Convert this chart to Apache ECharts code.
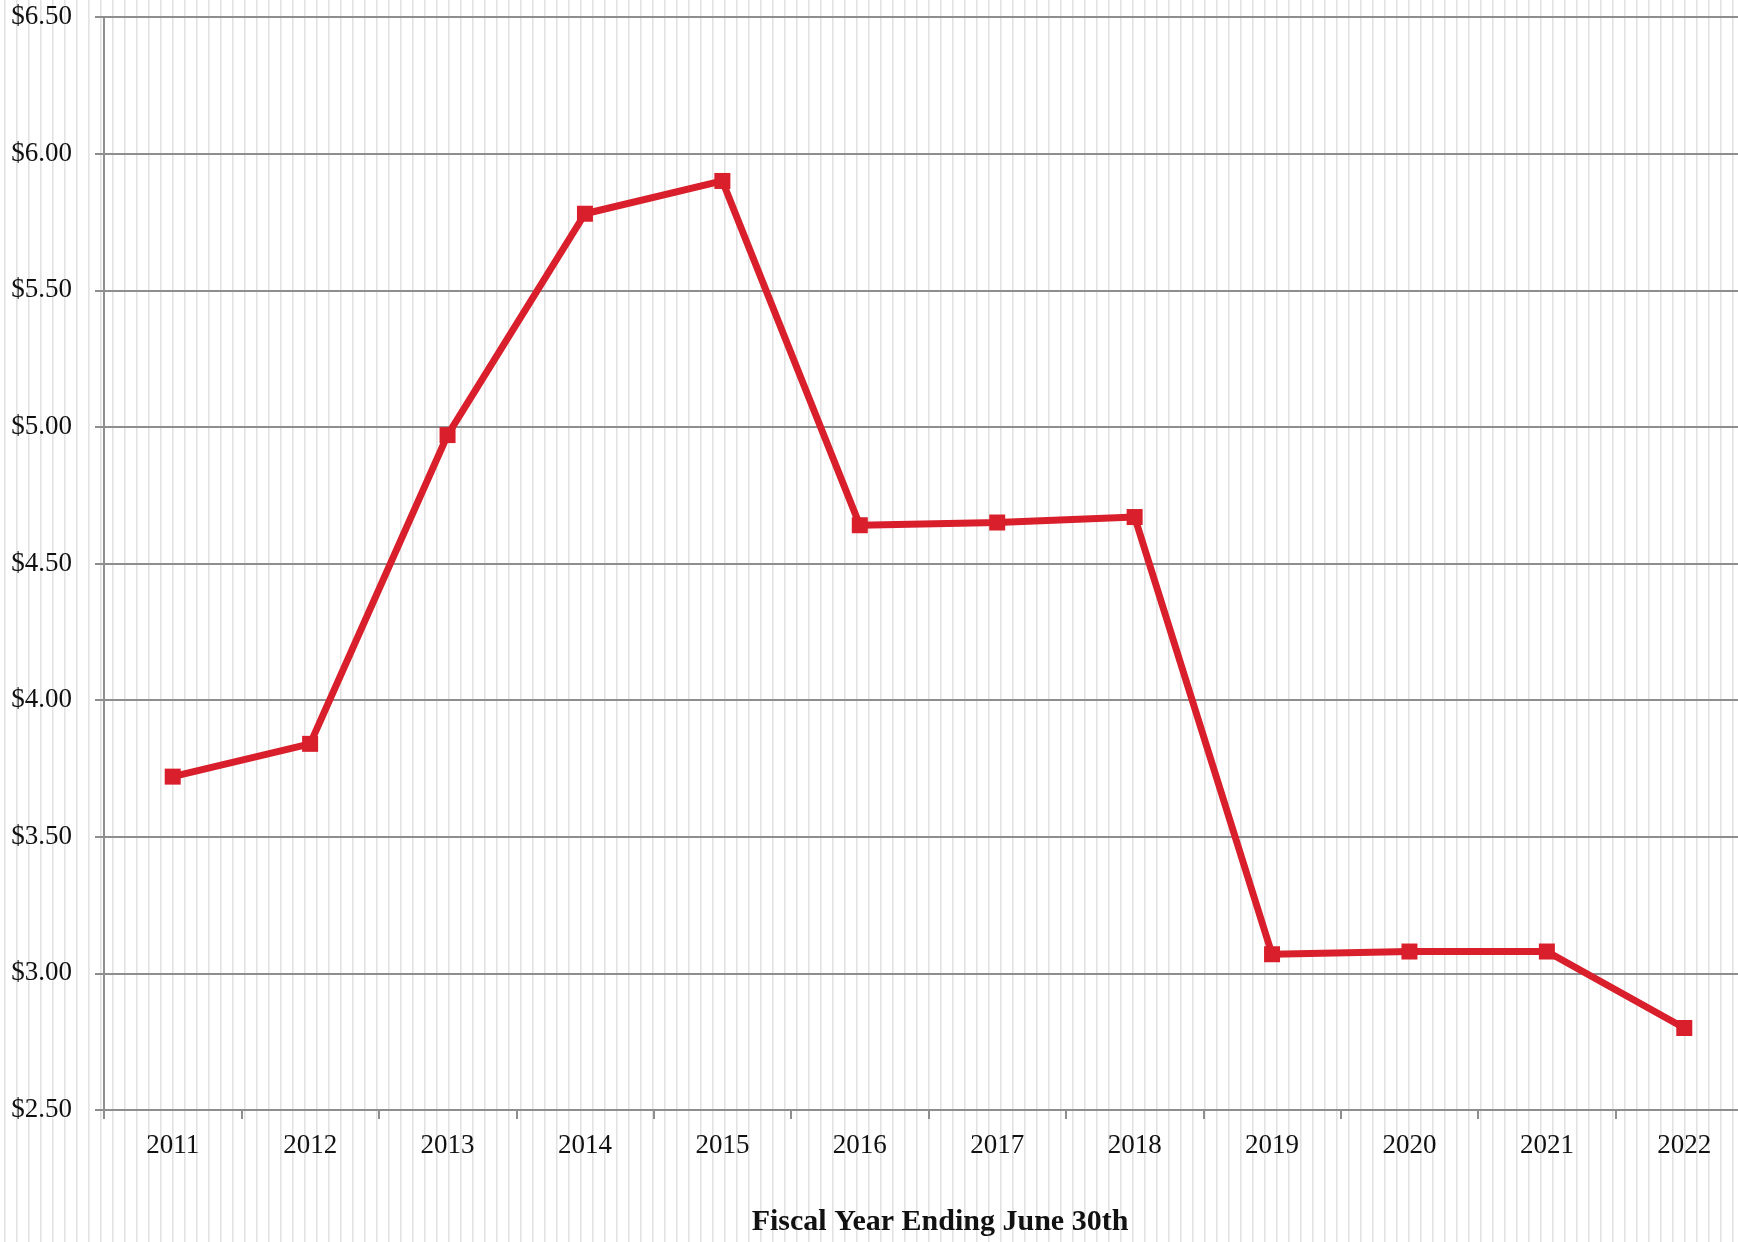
<!DOCTYPE html>
<html>
<head>
<meta charset="utf-8">
<script src="https://cdn.jsdelivr.net/npm/echarts@6/dist/echarts.min.js"></script>
<style>
  html, body { margin: 0; padding: 0; width: 1738px; height: 1242px; overflow: hidden; }
  body {
    background-color: #ffffff;
    background-image: repeating-linear-gradient(to right,
      transparent 0px, transparent 4px,
      #e2e2e2 4px, #e2e2e2 5px,
      #eeeeee 5px, #eeeeee 6px,
      transparent 6px, transparent 12px);
  }
  #chart { width: 1760px; height: 1242px; }
</style>
</head>
<body>
<div id="chart"></div>
<script>
const categories = ['2011','2012','2013','2014','2015','2016','2017','2018','2019','2020','2021','2022'];
const values = [3.72, 3.84, 4.97, 5.78, 5.90, 4.64, 4.65, 4.67, 3.07, 3.08, 3.08, 2.80];
const yMin = 2.5;
const yMax = 6.5;
const yStep = 0.5;
const xAxisTitle = 'Fiscal Year Ending June 30th';

const chart = echarts.init(document.getElementById('chart'), null, { renderer: 'canvas' });
const gridColor = '#8e8e8e';
const font = '"Liberation Serif", "Times New Roman", serif';

chart.setOption({
  backgroundColor: 'transparent',
  animation: false,
  grid: { left: 104, right: 7, top: 17, bottom: 132, containLabel: false },
  xAxis: {
    type: 'category',
    data: categories,
    boundaryGap: true,
    axisLine: { show: true, lineStyle: { color: gridColor, width: 2 } },
    axisTick: { show: true, length: 9, alignWithLabel: false, lineStyle: { color: gridColor, width: 2 } },
    axisLabel: { margin: 22, color: '#111', fontFamily: font, fontSize: 27 },
    splitLine: { show: false }
  },
  yAxis: {
    type: 'value',
    min: yMin,
    max: yMax,
    interval: yStep,
    axisLine: { show: true, lineStyle: { color: gridColor, width: 2 } },
    axisTick: { show: true, length: 9, lineStyle: { color: gridColor, width: 2 } },
    axisLabel: {
      margin: 32, color: '#111', fontFamily: font, fontSize: 27,
      formatter: v => '$' + v.toFixed(2)
    },
    splitLine: { show: true, lineStyle: { color: gridColor, width: 2 } }
  },
  graphic: [{
    type: 'text',
    style: {
      text: xAxisTitle,
      x: 940, y: 1222,
      textAlign: 'center', textVerticalAlign: 'middle',
      font: 'bold 30px ' + font,
      fill: '#111'
    }
  }],
  series: [{
    type: 'line',
    data: values,
    symbol: 'rect',
    symbolSize: 16,
    lineStyle: { color: '#d91f2b', width: 7 },
    itemStyle: { color: '#d91f2b' },
    label: { show: false }
  }]
});
</script>
</body>
</html>
